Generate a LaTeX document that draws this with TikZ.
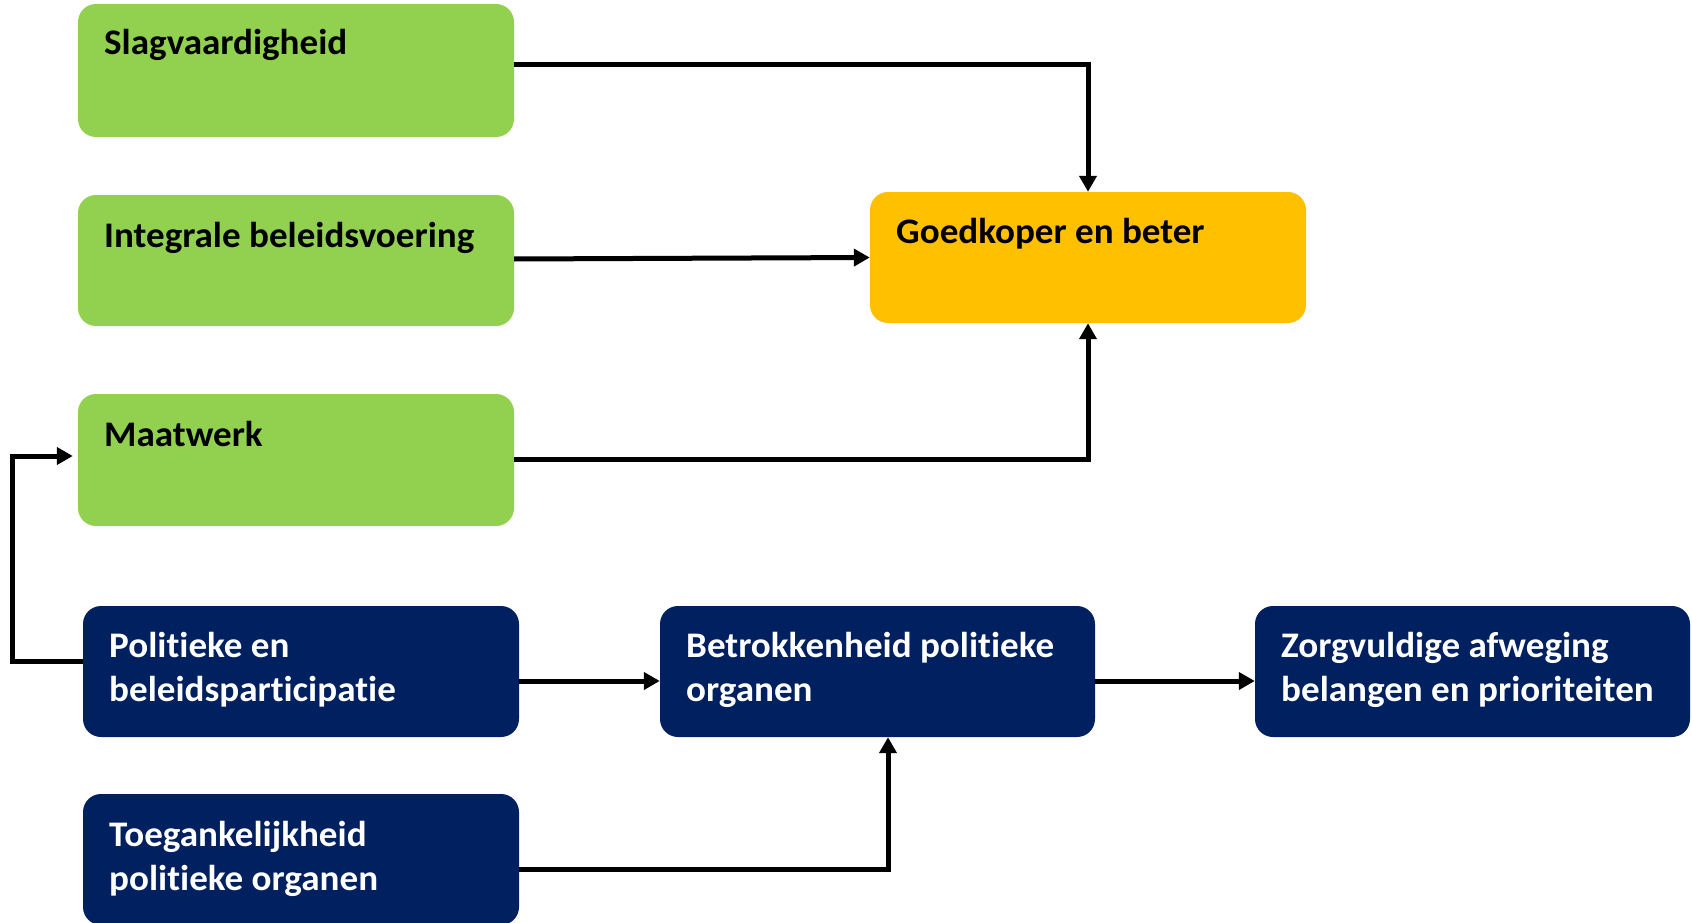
\documentclass[tikz,border=0pt]{standalone}
\usepackage{fontspec}
\setmainfont{Carlito}[Ligatures={NoCommon}, FakeStretch=1.03]
\usetikzlibrary{arrows.meta}
\definecolor{lgreen}{HTML}{92D050}
\definecolor{gold}{HTML}{FFC000}
\definecolor{navy}{HTML}{002060}
\tikzset{
  box/.style={rounded corners=18pt, minimum width=436pt, minimum height=131pt, inner sep=0pt, draw=none},
  gbox/.style={box, fill=lgreen},
  ybox/.style={box, fill=gold},
  nbox/.style={box, fill=navy},
  lbl/.style={anchor=base west, inner sep=0pt, font=\bfseries\fontsize{36}{44}\selectfont, align=left},
  wlbl/.style={lbl, text=white},
  arr/.style={line width=5pt, -{Triangle[length=16pt,width=17pt]}},
}
\begin{document}
\begin{tikzpicture}[x=1pt,y=-1pt]
\useasboundingbox (0,0) rectangle (1692,923);
\node[gbox, minimum height=133pt] (slag) at (296,70.5) {};
\node[gbox] (integ) at (296,260.5) {};
\node[gbox, minimum height=132pt] (maat) at (296,460) {};
\node[ybox] (goed) at (1088,257.5) {};
\node[nbox] (pol) at (301,671.5) {};
\node[nbox, minimum width=435pt] (betr) at (877.5,671.5) {};
\node[nbox, minimum width=435pt] (zorg) at (1472.5,671.5) {};
\node[nbox] (toeg) at (301,859.5) {};
\node[lbl] (slagT) at (104,55) {Slagvaardigheid};
\node[lbl] (integT) at (104,247) {Integrale beleidsvoering};
\node[lbl] (maatT) at (104,446) {Maatwerk};
\node[lbl] (goedT) at (896,243) {Goedkoper en beter};
\node[wlbl] (polT) at (109,701) {Politieke en\\beleidsparticipatie};
\node[wlbl] (betrT) at (686,701) {Betrokkenheid politieke\\organen};
\node[wlbl] (zorgT) at (1281,701) {Zorgvuldige afweging\\belangen en prioriteiten};
\node[wlbl] (toegT) at (109,890) {Toegankelijkheid\\politieke organen};
\coordinate (fbL) at (12,661);
\coordinate (fbT) at (12,456);
\draw[arr] ([yshift=5.5pt]slag.east) -| (goed.north);
\draw[arr] ([yshift=1.5pt]integ.east) -- (goed.west);
\draw[arr] ([yshift=1pt]maat.east) -| (goed.south);
\draw[arr, shorten >=5pt] ([yshift=10.5pt]pol.west) -- (fbL) -- (fbT) -- (maat.west |- fbT);
\draw[arr] ([yshift=-9.5pt]pol.east) -- ([yshift=-9.5pt]betr.west);
\draw[arr] ([yshift=-9.5pt]betr.east) -- ([yshift=-9.5pt]zorg.west);
\draw[arr] ([yshift=-9.5pt]toeg.east) -| ([xshift=10.5pt]betr.south);
\end{tikzpicture}
\end{document}
